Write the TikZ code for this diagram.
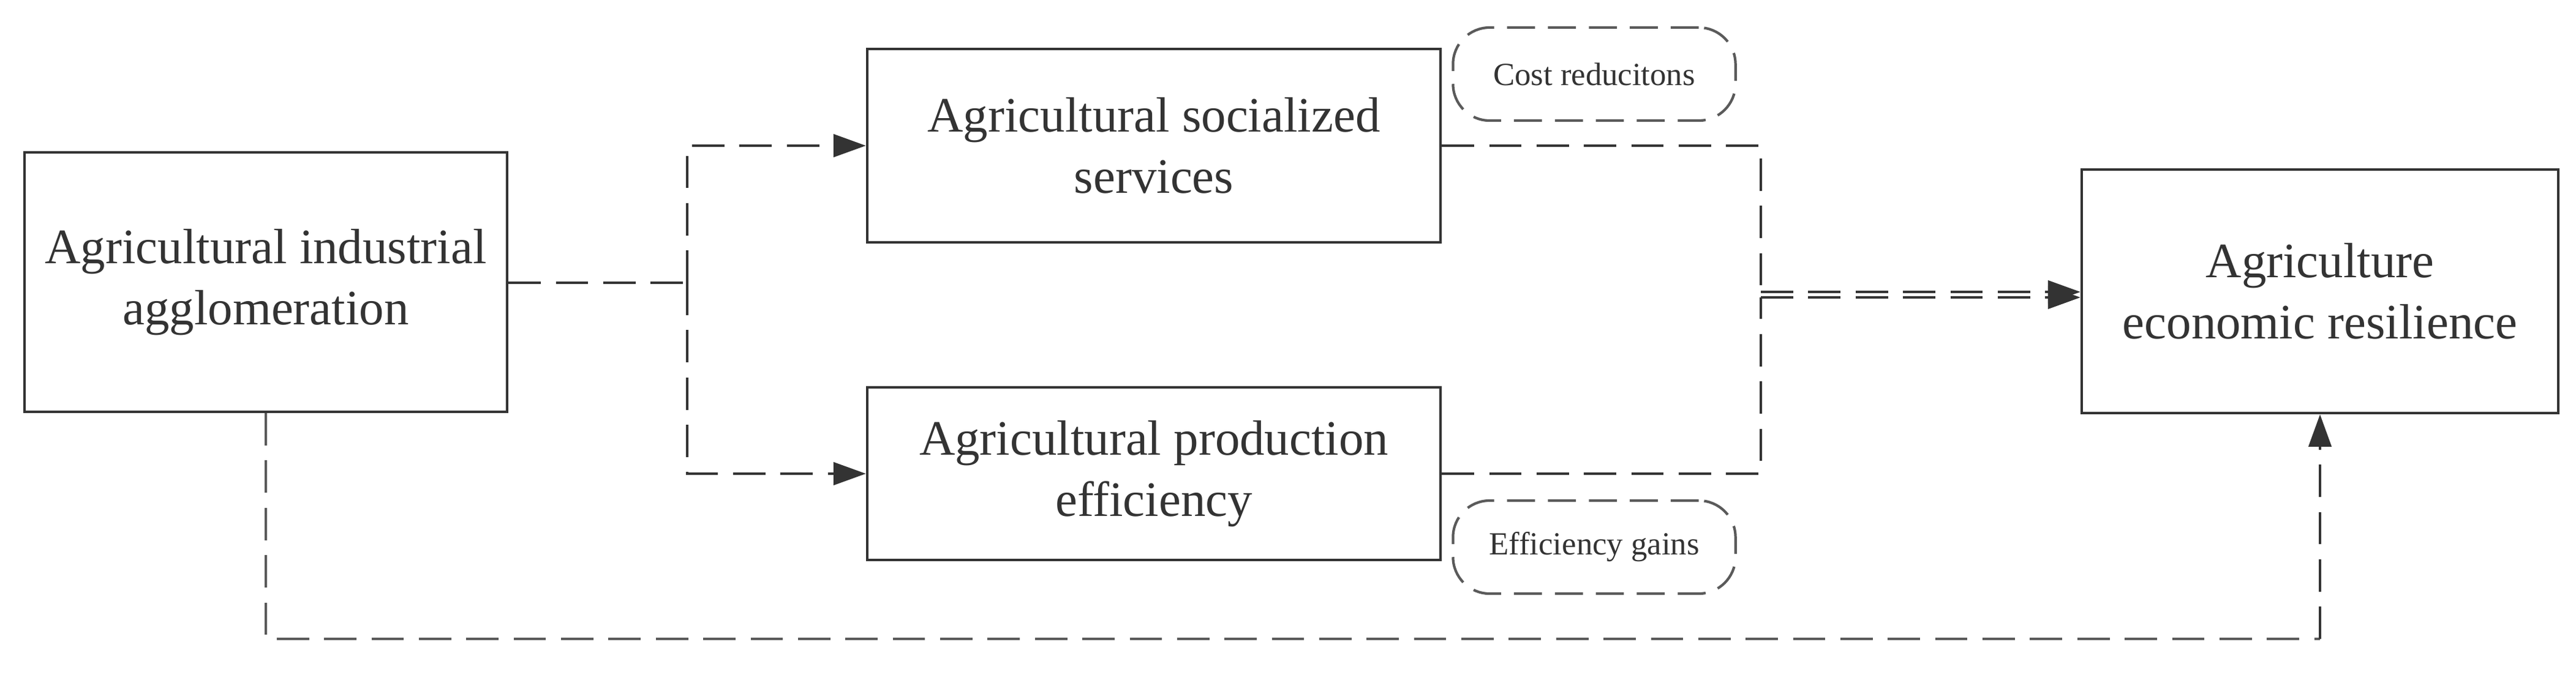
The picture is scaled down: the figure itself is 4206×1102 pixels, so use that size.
\documentclass[tikz,border=0pt]{standalone}
\usepackage{fontspec}
\setmainfont{Liberation Serif}
\usetikzlibrary{arrows.meta}
\definecolor{ink}{HTML}{333333}
\definecolor{inkb}{HTML}{5A5A5A}
\begin{document}
\begin{tikzpicture}[x=0.01cm,y=-0.01cm,
  box/.style={draw=ink,line width=1.1pt,text=ink,align=center,inner sep=0pt,
    font=\fontsize{23}{28.4}\selectfont},
  tag/.style={draw=inkb,line width=1.2pt,dash pattern=on 13pt off 6pt,rounded corners=0.6cm,
    text=ink,align=center,inner sep=0pt,font=\fontsize{15}{18}\selectfont},
  conn/.style={draw=ink,line width=1.3pt,dash pattern=on 15pt off 7pt},
  connb/.style={draw=inkb,line width=1.4pt,dash pattern=on 15pt off 7pt},
  arr/.style={-{Triangle[length=0.53cm,width=0.37cm]}}]
\useasboundingbox (0,0) rectangle (4206,1102);
\node[box,minimum width=7.88cm,minimum height=4.24cm] (A) at (434,461) {Agricultural industrial\\agglomeration};
\node[box,minimum width=9.36cm,minimum height=3.16cm] (B) at (1884,238) {Agricultural socialized\\services};
\node[box,minimum width=9.36cm,minimum height=2.82cm] (C) at (1884,774) {Agricultural production\\efficiency};
\node[box,minimum width=7.78cm,minimum height=3.98cm] (D) at (3788,476) {Agriculture\\economic resilience};
\node[tag,minimum width=4.61cm,minimum height=1.52cm] (cost) at (2603,121) {Cost reducitons};
\node[tag,minimum width=4.61cm,minimum height=1.52cm] (eff) at (2603,894) {Efficiency gains};
\coordinate (j) at (1122,462);
\coordinate (k) at (2875,477);
\coordinate (k2) at (2875,486);
\coordinate (b1) at (434,1044);
\coordinate (b2) at (3788,1044);
\draw[conn] (A.east |- j) -- (j);
\draw[conn,arr] (j) |- (B.west);
\draw[conn,arr] (j) |- (C.west);
\draw[conn] (B.east) -| (k);
\draw[conn,arr] (k) -- (k -| D.west);
\draw[conn] (C.east) -| (k2);
\draw[conn,arr] (k2) -- (k2 -| D.west);
\draw[connb] (A.south) -- (b1) -- (b2);
\draw[conn,arr] (b2) -- (D.south);
\end{tikzpicture}
\end{document}
